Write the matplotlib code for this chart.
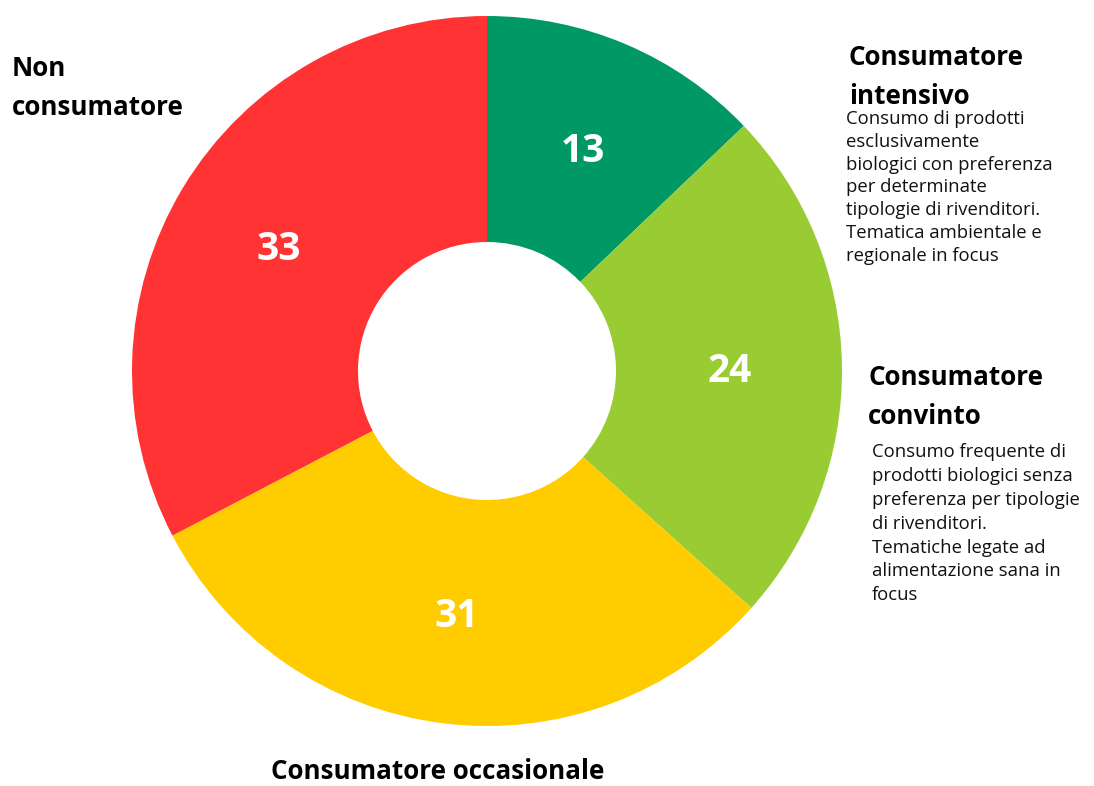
import matplotlib.pyplot as plt

# quote per tipologia di consumatore (senso orario dall'alto)
categorie = ["Consumatore intensivo", "Consumatore convinto",
             "Consumatore occasionale", "Non consumatore"]
valori = [13, 24, 31, 33]
colori = ["#009966", "#99CC33", "#FFCC00", "#FF3333"]

desc_intensivo = ("Consumo di prodotti\nesclusivamente\nbiologici con preferenza\n"
                  "per determinate\ntipologie di rivenditori.\n"
                  "Tematica ambientale e\nregionale in focus")
desc_convinto = ("Consumo frequente di\nprodotti biologici senza\n"
                 "preferenza per tipologie\ndi rivenditori.\n"
                 "Tematiche legate ad\nalimentazione sana in\nfocus")

W, H = 1094, 786
fig = plt.figure(figsize=(W / 100, H / 100), dpi=100)
ax = fig.add_axes([0, 0, 1, 1])

totale = sum(valori)
wedges, _, nums = ax.pie(
    valori, colors=colori, startangle=90, counterclock=False,
    center=(487, H - 371), radius=355,
    autopct=lambda p: "{:.0f}".format(p * totale / 100),
    pctdistance=0.685,
    wedgeprops=dict(width=355 - 129, linewidth=0),
    textprops=dict(color="white", fontsize=28, fontweight="bold",
                   family="Open Sans"),
)
for t in nums:
    t.set_va("center_baseline")

# pie() resets the limits, so set pixel-like coordinates afterwards
ax.set_xlim(0, W)
ax.set_ylim(0, H)
ax.set_aspect("equal")
ax.axis("off")

titolo = dict(fontsize=18.7, fontweight="bold", family="Open Sans",
              color="black", va="top", ha="left", linespacing=1.55)
testo = dict(fontsize=13.3, family="Open Sans", color="#111111",
             va="top", ha="left")

ax.text(12, H - 55, "Non\nconsumatore", **titolo)
ax.text(849, H - 44, "Consumatore\nintensivo", **titolo)
ax.text(846, H - 110, desc_intensivo, linespacing=1.34, **testo)
ax.text(868, H - 364, "Consumatore\nconvinto", **titolo)
ax.text(872, H - 443, desc_convinto, linespacing=1.42, **testo)
ax.text(271, H - 758, "Consumatore occasionale", **titolo)

fig.savefig("out.png", dpi=100, facecolor="white")
